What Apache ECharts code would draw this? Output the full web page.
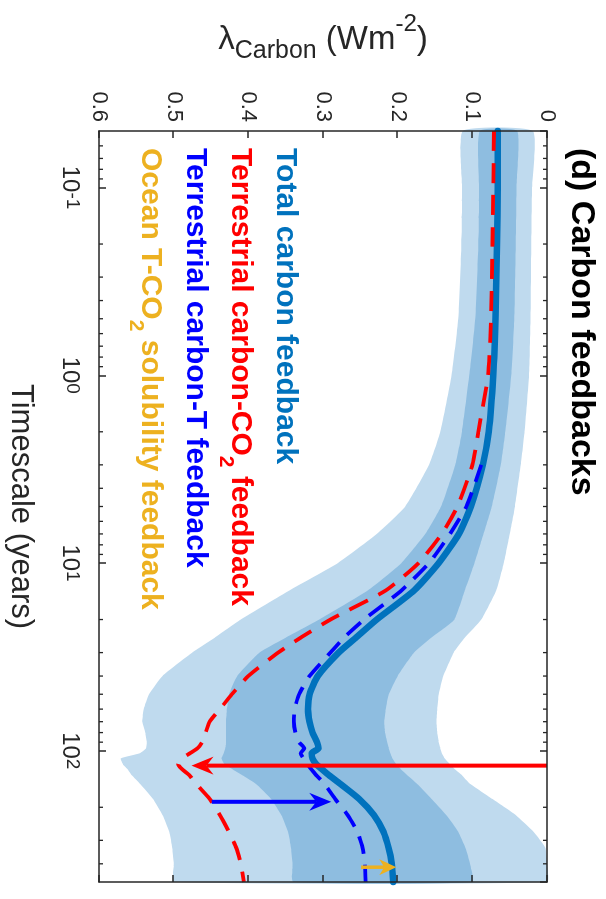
<!DOCTYPE html>
<html><head><meta charset="utf-8">
<script src="https://cdn.jsdelivr.net/npm/echarts@6/dist/echarts.min.js"></script>
<style>
html,body{margin:0;padding:0;width:606px;height:899px;overflow:hidden;background:#fff;}
#c{position:absolute;left:0;top:0;width:899px;height:606px;transform-origin:0 0;transform:translate(606px,0) rotate(90deg);}
</style></head><body><div id="c"></div>
<script>
// ---- data (timescale in years, lambda in W m-2) ----
const timescale = [0.05,0.1,0.2,0.5,1,2,3,5,7,10,14,20,25,30,40,50,60,70,80,90,97,103,110,118,125,135,150,180,220,270,330,400,500];
const totalCarbon = [.066,.066,.067,.069,.072,.078,.086,.102,.118,.145,.178,.228,.256,.279,.307,.318,.320,.318,.314,.308,.306,.315,.314,.309,.302,.292,.277,.252,.232,.219,.212,.208,.206];
const terrCO2 = [.071,.072,.073,.075,.079,.092,.100,.120,.141,.172,.216,.290,.330,.360,.400,.422,.438,.452,.457,.462,.468,.478,.489,.494,.489,.479,.470,.452,.438,.426,.416,.410,.406];
const terrT = [null,null,null,null,null,null,.088,.108,.130,.158,.195,.245,.272,.290,.318,.332,.338,.339,.337,.332,.325,.330,.326,.321,.316,.309,.298,.284,.267,.254,.247,.244,.243];
const darkUpper = [.090,.091,.092,.096,.104,.114,.123,.142,.163,.195,.240,.305,.350,.385,.415,.426,.429,.430,.430,.430,.431,.433,.436,.432,.422,.408,.390,.370,.356,.347,.343,.341,.340];
const darkLower = [.040,.041,.042,.044,.048,.056,.062,.074,.085,.097,.110,.124,.155,.178,.200,.212,.216,.218,.217,.214,.212,.210,.207,.202,.196,.187,.174,.155,.135,.119,.109,.103,.100];
const lightUpper = [.113,.114,.115,.119,.128,.143,.158,.190,.228,.280,.345,.410,.445,.475,.515,.533,.540,.542,.538,.536,.537,.545,.571,.568,.562,.556,.545,.528,.515,.506,.502,.500,.500];
const lightLower = [.019,.020,.021,.022,.024,.030,.035,.043,.050,.058,.068,.088,.110,.125,.139,.145,.147,.148,.147,.145,.143,.141,.137,.130,.124,.114,.103,.074,.042,.018,.002,0,0];
// arrows: [t start, value start, t end, value end]
const arrows = [[120,0,120,0.476],[187,0.449,187,0.289],[417,0.249,417,0.202]];
const arrowColors = ['#FF0000','#0000FF','#EDB120'];
const yTickLabels = ['0','0.1','0.2','0.3','0.4','0.5','0.6'];
const xMinorTicks = [0.06,0.07,0.08,0.09,0.2,0.3,0.4,0.5,0.6,0.7,0.8,0.9,2,3,4,5,6,7,8,9,20,30,40,50,60,70,80,90,200,300,400];
// legend lines: [main text, subscript, rest]
const legendParts = [['Total carbon feedback','',''],['Terrestrial carbon-CO','2',' feedback'],['Terrestrial carbon-T feedback','',''],['Ocean T-CO','2',' solubility feedback']];
const legendColors = ['#0072BD','#FF0000','#0000FF','#EDB120'];

const FONT = "'Liberation Sans', Arial, Helvetica, sans-serif";
const AX = '#262626';
const chart = echarts.init(document.getElementById('c'), null, {renderer:'canvas'});

function pairs(vals){ return timescale.map((t,i)=>[t, vals[i]]); }
function bandRender(up, lo, color){
  return function(params, api){
    const pts = [];
    for (let i=0;i<timescale.length;i++) pts.push(api.coord([timescale[i], up[i]]));
    for (let i=timescale.length-1;i>=0;i--) pts.push(api.coord([timescale[i], lo[i]]));
    return {type:'polygon', shape:{points:pts, smooth:0.15}, style:{fill:color}, silent:true};
  };
}
function arrowRender(params, api){
  const p0 = api.coord([api.value(0), api.value(1)]);
  const p1 = api.coord([api.value(2), api.value(3)]);
  const i = params.dataIndex;
  const col = arrowColors[i];
  const L = i===2 ? 17 : 22, W = i===2 ? 8 : 9, N = i===2 ? 5 : 7;
  let dx = p1[0]-p0[0], dy = p1[1]-p0[1];
  const len = Math.sqrt(dx*dx+dy*dy); dx/=len; dy/=len;
  const nx = -dy, ny = dx;
  const back = [p1[0]-dx*L, p1[1]-dy*L];
  const notch = [p1[0]-dx*(L-N), p1[1]-dy*(L-N)];
  return {type:'group', children:[
    {type:'line', shape:{x1:p0[0],y1:p0[1],x2:notch[0],y2:notch[1]}, style:{stroke:col, lineWidth: i===2?3.5:4}},
    {type:'polygon', shape:{points:[p1,[back[0]+nx*W, back[1]+ny*W], notch, [back[0]-nx*W, back[1]-ny*W]]}, style:{fill:col}}
  ]};
}
function minorRender(params, api){
  const t = api.value(0);
  const b = api.coord([t, 0.6]);
  const tp = api.coord([t, 0]);
  return {type:'group', children:[
    {type:'line', shape:{x1:b[0],y1:b[1],x2:b[0],y2:b[1]-4}, style:{stroke:AX, lineWidth:1.3}},
    {type:'line', shape:{x1:tp[0],y1:tp[1],x2:tp[0],y2:tp[1]+4}, style:{stroke:AX, lineWidth:1.3}}
  ]};
}

const legendTitles = legendParts.map((p,i)=>({
  text: '{a|' + p[0] + '}' + (p[1] ? '{s|' + p[1] + '}{a|' + p[2] + '}' : ''),
  left:148, top: 306 + i*45, padding:0,
  textStyle:{
    rich:{
      a:{fontSize:30, fontWeight:'bold', color:legendColors[i], fontFamily:FONT, lineHeight:30, verticalAlign:'top'},
      s:{fontSize:21, fontWeight:'bold', color:legendColors[i], fontFamily:FONT, lineHeight:21, verticalAlign:'top', padding:[19,0,0,0]}
    }
  }
}));

const axisCommon = {
  axisLine:{show:true, onZero:false, lineStyle:{color:AX, width:1.5}},
  axisTick:{show:true, inside:true, length:7, lineStyle:{color:AX, width:1.5}},
  splitLine:{show:false}, z:10
};

const option = {
  animation:false,
  backgroundColor:'#fff',
  title: [{text:'(d) Carbon feedbacks', left:148, top:8, padding:0,
           textStyle:{fontSize:34, fontWeight:'bold', color:'#000', fontFamily:FONT}}].concat(legendTitles),
  grid:{left:131, right:17, top:59, bottom:97, containLabel:false},
  xAxis:[
    Object.assign({type:'log', logBase:10, min:0.05, max:500, position:'bottom',
      axisLabel:{show:true, margin:17, showMinLabel:false, showMaxLabel:false,
        formatter:function(v){ const e = Math.round(Math.log10(v)); return '{b|10}{s|'+e+'}'; },
        rich:{ b:{fontSize:24, color:AX, fontFamily:FONT, lineHeight:24, verticalAlign:'bottom'},
               s:{fontSize:19, color:AX, fontFamily:FONT, lineHeight:19, verticalAlign:'top', padding:[0,0,17,0]} }},
      name:'Timescale (years)', nameLocation:'middle', nameGap:63,
      nameTextStyle:{fontSize:31, color:AX, fontFamily:FONT}}, axisCommon),
    Object.assign({type:'log', logBase:10, min:0.05, max:500, position:'top', axisLabel:{show:false}}, axisCommon)
  ],
  yAxis:[
    Object.assign({type:'value', min:0, max:0.6, interval:0.1, inverse:true, position:'left',
      axisLabel:{show:true, margin:9, fontSize:22, color:AX, fontFamily:FONT,
        formatter:function(v){ return yTickLabels[Math.round(v*10)]; }},
      name:'{m|λ}{sub|Carbon}{m| (Wm}{sup|-2}{m|)}', nameLocation:'middle', nameGap:86, nameRotate:90,
      nameTextStyle:{ rich:{
        m:{fontSize:33, color:AX, fontFamily:FONT, lineHeight:33, verticalAlign:'top', padding:[11,0,0,0]},
        sub:{fontSize:25, color:AX, fontFamily:FONT, lineHeight:25, verticalAlign:'top', padding:[27,0,0,0]},
        sup:{fontSize:24, color:AX, fontFamily:FONT, lineHeight:24, verticalAlign:'top', padding:[0,0,0,0]} }}}, axisCommon),
    Object.assign({type:'value', min:0, max:0.6, interval:0.1, inverse:true, position:'right', axisLabel:{show:false}}, axisCommon)
  ],
  series:[
    {type:'custom', name:'Light band', renderItem:bandRender(lightUpper, lightLower, '#BFDAEE'), data:[[1,0.1]], z:1, silent:true},
    {type:'custom', name:'Dark band', renderItem:bandRender(darkUpper, darkLower, '#8EBDE0'), data:[[1,0.1]], z:1, silent:true},
    {type:'line', name:'Total carbon feedback', data:pairs(totalCarbon), symbol:'none', smooth:0.2,
      lineStyle:{color:'#0072BD', width:6.5, cap:'round', join:'round'}, z:3},
    {type:'line', name:'Terrestrial carbon-CO2 feedback', data:pairs(terrCO2), symbol:'none', smooth:0.2,
      lineStyle:{color:'#FF0000', width:3.8, type:[20,12]}, z:4},
    {type:'line', name:'Terrestrial carbon-T feedback', data:pairs(terrT), symbol:'none', smooth:0.2, connectNulls:false,
      lineStyle:{color:'#0000FF', width:3.8, type:[18,11]}, z:4},
    {type:'custom', name:'arrows', renderItem:arrowRender, data:arrows, encode:{x:[0,2], y:[1,3]}, z:5, silent:true},
    {type:'custom', name:'minor ticks', renderItem:minorRender, data:xMinorTicks.map(t=>[t,0.3]), z:11, silent:true}
  ]
};
chart.setOption(option);
</script></body></html>
